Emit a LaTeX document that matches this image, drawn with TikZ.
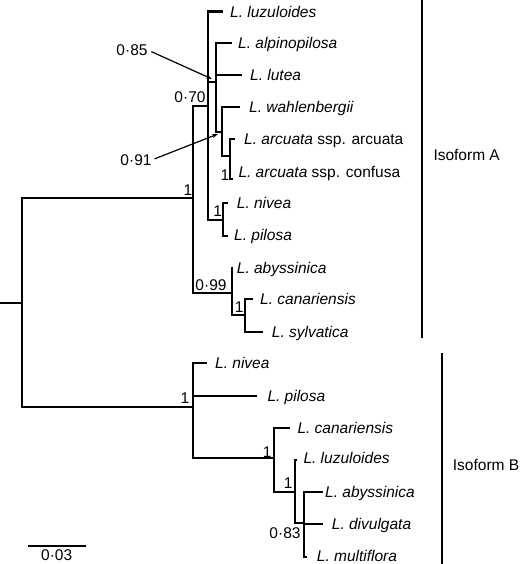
\documentclass[tikz,border=0pt]{standalone}
\usepackage{fontspec}
\setmainfont{Liberation Sans}
\usetikzlibrary{arrows.meta}
\begin{document}
\begin{tikzpicture}[x=1pt,y=-1pt,
  br/.style={line width=2.3pt, line join=miter},
  lf/.style={anchor=base west, inner sep=0pt},
  sup/.style={anchor=center, inner sep=0pt},
  bar/.style={line width=2.3pt},
  ptr/.style={line width=1.2pt, -{Stealth[length=6pt,width=4pt]}}]
\useasboundingbox (0,0) rectangle (520,564);
\fontsize{15.5}{18}\selectfont
% ---- internal nodes
\coordinate (R0) at (0,303.3);
\coordinate (R) at (21.7,303.3);
\coordinate (A) at (193.3,198.3);
\coordinate (B) at (193.3,406.7);
\coordinate (n70) at (208.3,106);
\coordinate (n99) at (231.7,292.7);
\coordinate (n85) at (216,82);
\coordinate (n91) at (221.7,131.7);
\coordinate (nArc) at (230,155.7);
\coordinate (nNP) at (223.3,220);
\coordinate (nCS) at (245,315);
\coordinate (nB2) at (274.3,458.3);
\coordinate (nB3) at (295,492.3);
\coordinate (nB4) at (304,523.3);
% ---- leaf ends
\coordinate (eA1) at (223.3,11.5);
\coordinate (eA2) at (231.7,43.3);
\coordinate (eA3) at (241.7,75);
\coordinate (eA4) at (240,106.7);
\coordinate (eA5) at (234.7,139.3);
\coordinate (eA6) at (233,179);
\coordinate (eA7) at (228.3,203.3);
\coordinate (eA8) at (228.3,236);
\coordinate (eA9) at (233.3,267.7);
\coordinate (eA10) at (253.3,299.3);
\coordinate (eA11) at (263.3,331.7);
\coordinate (eB1) at (206.7,363.3);
\coordinate (eB2) at (256.7,396);
\coordinate (eB3) at (290,428.3);
\coordinate (eB4) at (297.3,460);
\coordinate (eB5) at (323.3,491.7);
\coordinate (eB6) at (323.3,524);
\coordinate (eB7) at (306.7,557);
% ---- branches
\draw[br] (R0) -- (R);
\draw[br] (R) |- (A);
\draw[br] (R) |- (B);
\draw[br] (A) |- (n70);
\draw[br] (A) |- (n99);
\draw[br] (n70) |- (eA1);
\draw[br] (n70) |- (n85);
\draw[br] (n70) |- (nNP);
\draw[br] (n85) |- (eA2);
\draw[br] (n85) |- (eA3);
\draw[br] (n85) |- (n91);
\draw[br] (n91) |- (eA4);
\draw[br] (n91) |- (nArc);
\draw[br] (nArc) |- (eA5);
\draw[br] (nArc) |- (eA6);
\draw[br] (nNP) |- (eA7);
\draw[br] (nNP) |- (eA8);
\draw[br] (n99) |- (eA9);
\draw[br] (n99) |- (nCS);
\draw[br] (nCS) |- (eA10);
\draw[br] (nCS) |- (eA11);
\draw[br] (B) |- (eB1);
\draw[br] (B) |- (eB2);
\draw[br] (B) |- (nB2);
\draw[br] (nB2) |- (eB3);
\draw[br] (nB2) |- (nB3);
\draw[br] (nB3) |- (eB4);
\draw[br] (nB3) |- (nB4);
\draw[br] (nB4) |- (eB5);
\draw[br] (nB4) |- (eB6);
\draw[br] (nB4) |- (eB7);
% ---- leaf labels
\node[lf] (tA1) at (230,17.1) {\textit{L. luzuloides}};
\node[lf] (tA2) at (238,48.9) {\textit{L. alpinopilosa}};
\node[lf] (tA3) at (250,80.6) {\textit{L. lutea}};
\node[lf] (tA4) at (249,112.3) {\textit{L. wahlenbergii}};
\node[lf] (tA5) at (244,144.9) {\textit{L. arcuata} ssp. arcuata};
\node[lf] (tA6) at (238.3,177.3) {\textit{L. arcuata} ssp. confusa};
\node[lf] (tA7) at (236.7,208.9) {\textit{L. nivea}};
\node[lf] (tA8) at (234,240.6) {\textit{L. pilosa}};
\node[lf] (tA9) at (236.7,273.3) {\textit{L. abyssinica}};
\node[lf] (tA10) at (260,304.9) {\textit{L. canariensis}};
\node[lf] (tA11) at (271.7,337.3) {\textit{L. sylvatica}};
\node[lf] (tB1) at (215,368.9) {\textit{L. nivea}};
\node[lf] (tB2) at (267.3,401.6) {\textit{L. pilosa}};
\node[lf] (tB3) at (297.3,433.9) {\textit{L. canariensis}};
\node[lf] (tB4) at (303.3,463.9) {\textit{L. luzuloides}};
\node[lf] (tB5) at (325,497.3) {\textit{L. abyssinica}};
\node[lf] (tB6) at (331.7,529.9) {\textit{L. divulgata}};
\node[lf] (tB7) at (316.7,561.6) {\textit{L. multiflora}};
% ---- support values
\node[sup] (sA) at (188,190) {1};
\node[sup] (s70) at (190,97) {0·70};
\node[sup] (s85) at (132,50) {0·85};
\node[sup] (s91) at (136,160) {0·91};
\node[sup] (sArc) at (225,175) {1};
\node[sup] (sNP) at (217.7,210.7) {1};
\node[sup] (s99) at (211,285) {0·99};
\node[sup] (sCS) at (239.3,306.7) {1};
\node[sup] (sB) at (185,398.3) {1};
\node[sup] (sB2) at (267.3,451.7) {1};
\node[sup] (sB3) at (288.3,483.3) {1};
\node[sup] (s83) at (285,533.3) {0·83};
% ---- pointer arrows
\coordinate (a85) at (212,79);
\coordinate (a91) at (218,134);
\draw[ptr, shorten <=4pt] (s85.east) -- (a85);
\draw[ptr, shorten <=3pt] (s91.east) -- (a91);
% ---- isoform bars
\coordinate (IAt) at (421.7,0);
\coordinate (IAb) at (421.7,338.3);
\coordinate (IBt) at (441.7,353.3);
\coordinate (IBb) at (441.7,564);
\draw[bar] (IAt) -- (IAb);
\draw[bar] (IBt) -- (IBb);
\node[anchor=west, inner sep=0pt] (IA) at (433.3,155) {Isoform A};
\node[anchor=west, inner sep=0pt] (IB) at (452.7,465) {Isoform B};
% ---- scale bar
\coordinate (S1) at (27.7,546);
\coordinate (S2) at (85.7,546);
\draw[line width=2pt] (S1) -- (S2);
\node[sup] (sc) at (56.7,555.5) {0·03};
\end{tikzpicture}
\end{document}
